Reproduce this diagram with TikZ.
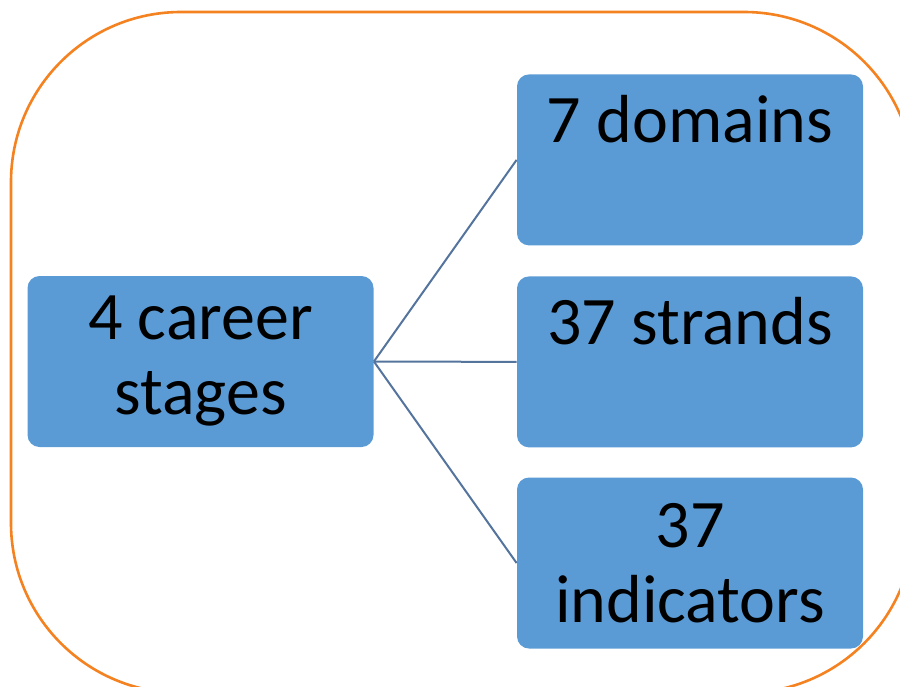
\documentclass[tikz,border=0pt]{standalone}
\usepackage{fontspec}
\setmainfont{Carlito}
\definecolor{boxblue}{RGB}{91,155,213}
\definecolor{linkblue}{RGB}{84,116,158}
\definecolor{frameorange}{RGB}{245,130,32}
\begin{document}
\begin{tikzpicture}[x=0.5pt, y=-0.5pt,
    box/.style={fill=boxblue, rounded corners=6pt, inner sep=0pt, minimum width=173pt,
        font=\fontsize{34}{37.5}\selectfont, align=center},
    topbox/.style={box, anchor=north, text height=34pt, text depth=51.5pt},
    link/.style={linkblue, line width=1pt}]
	\useasboundingbox (0,0) rectangle (900,686);
	\begin{scope}
		\clip (0,0) rectangle (900,686);
		\draw[frameorange, line width=1.3pt, rounded corners=85pt] (11,12) rectangle (914,693);
	\end{scope}
	\node[box, minimum height=85.5pt] (stages) at (200.5,361.5) {4 career\\stages};
	\node[topbox] (domains) at (690,74) {7 domains};
	\node[topbox] (strands) at (690,276) {37 strands};
	\node[box, minimum height=85.5pt] (indicators) at (690,563) {37\\indicators};
	\draw[link] (stages.east) -- (domains.west);
	\draw[link] (stages.east) -- (strands.west);
	\draw[link] (stages.east) -- (indicators.west);
\end{tikzpicture}
\end{document}
